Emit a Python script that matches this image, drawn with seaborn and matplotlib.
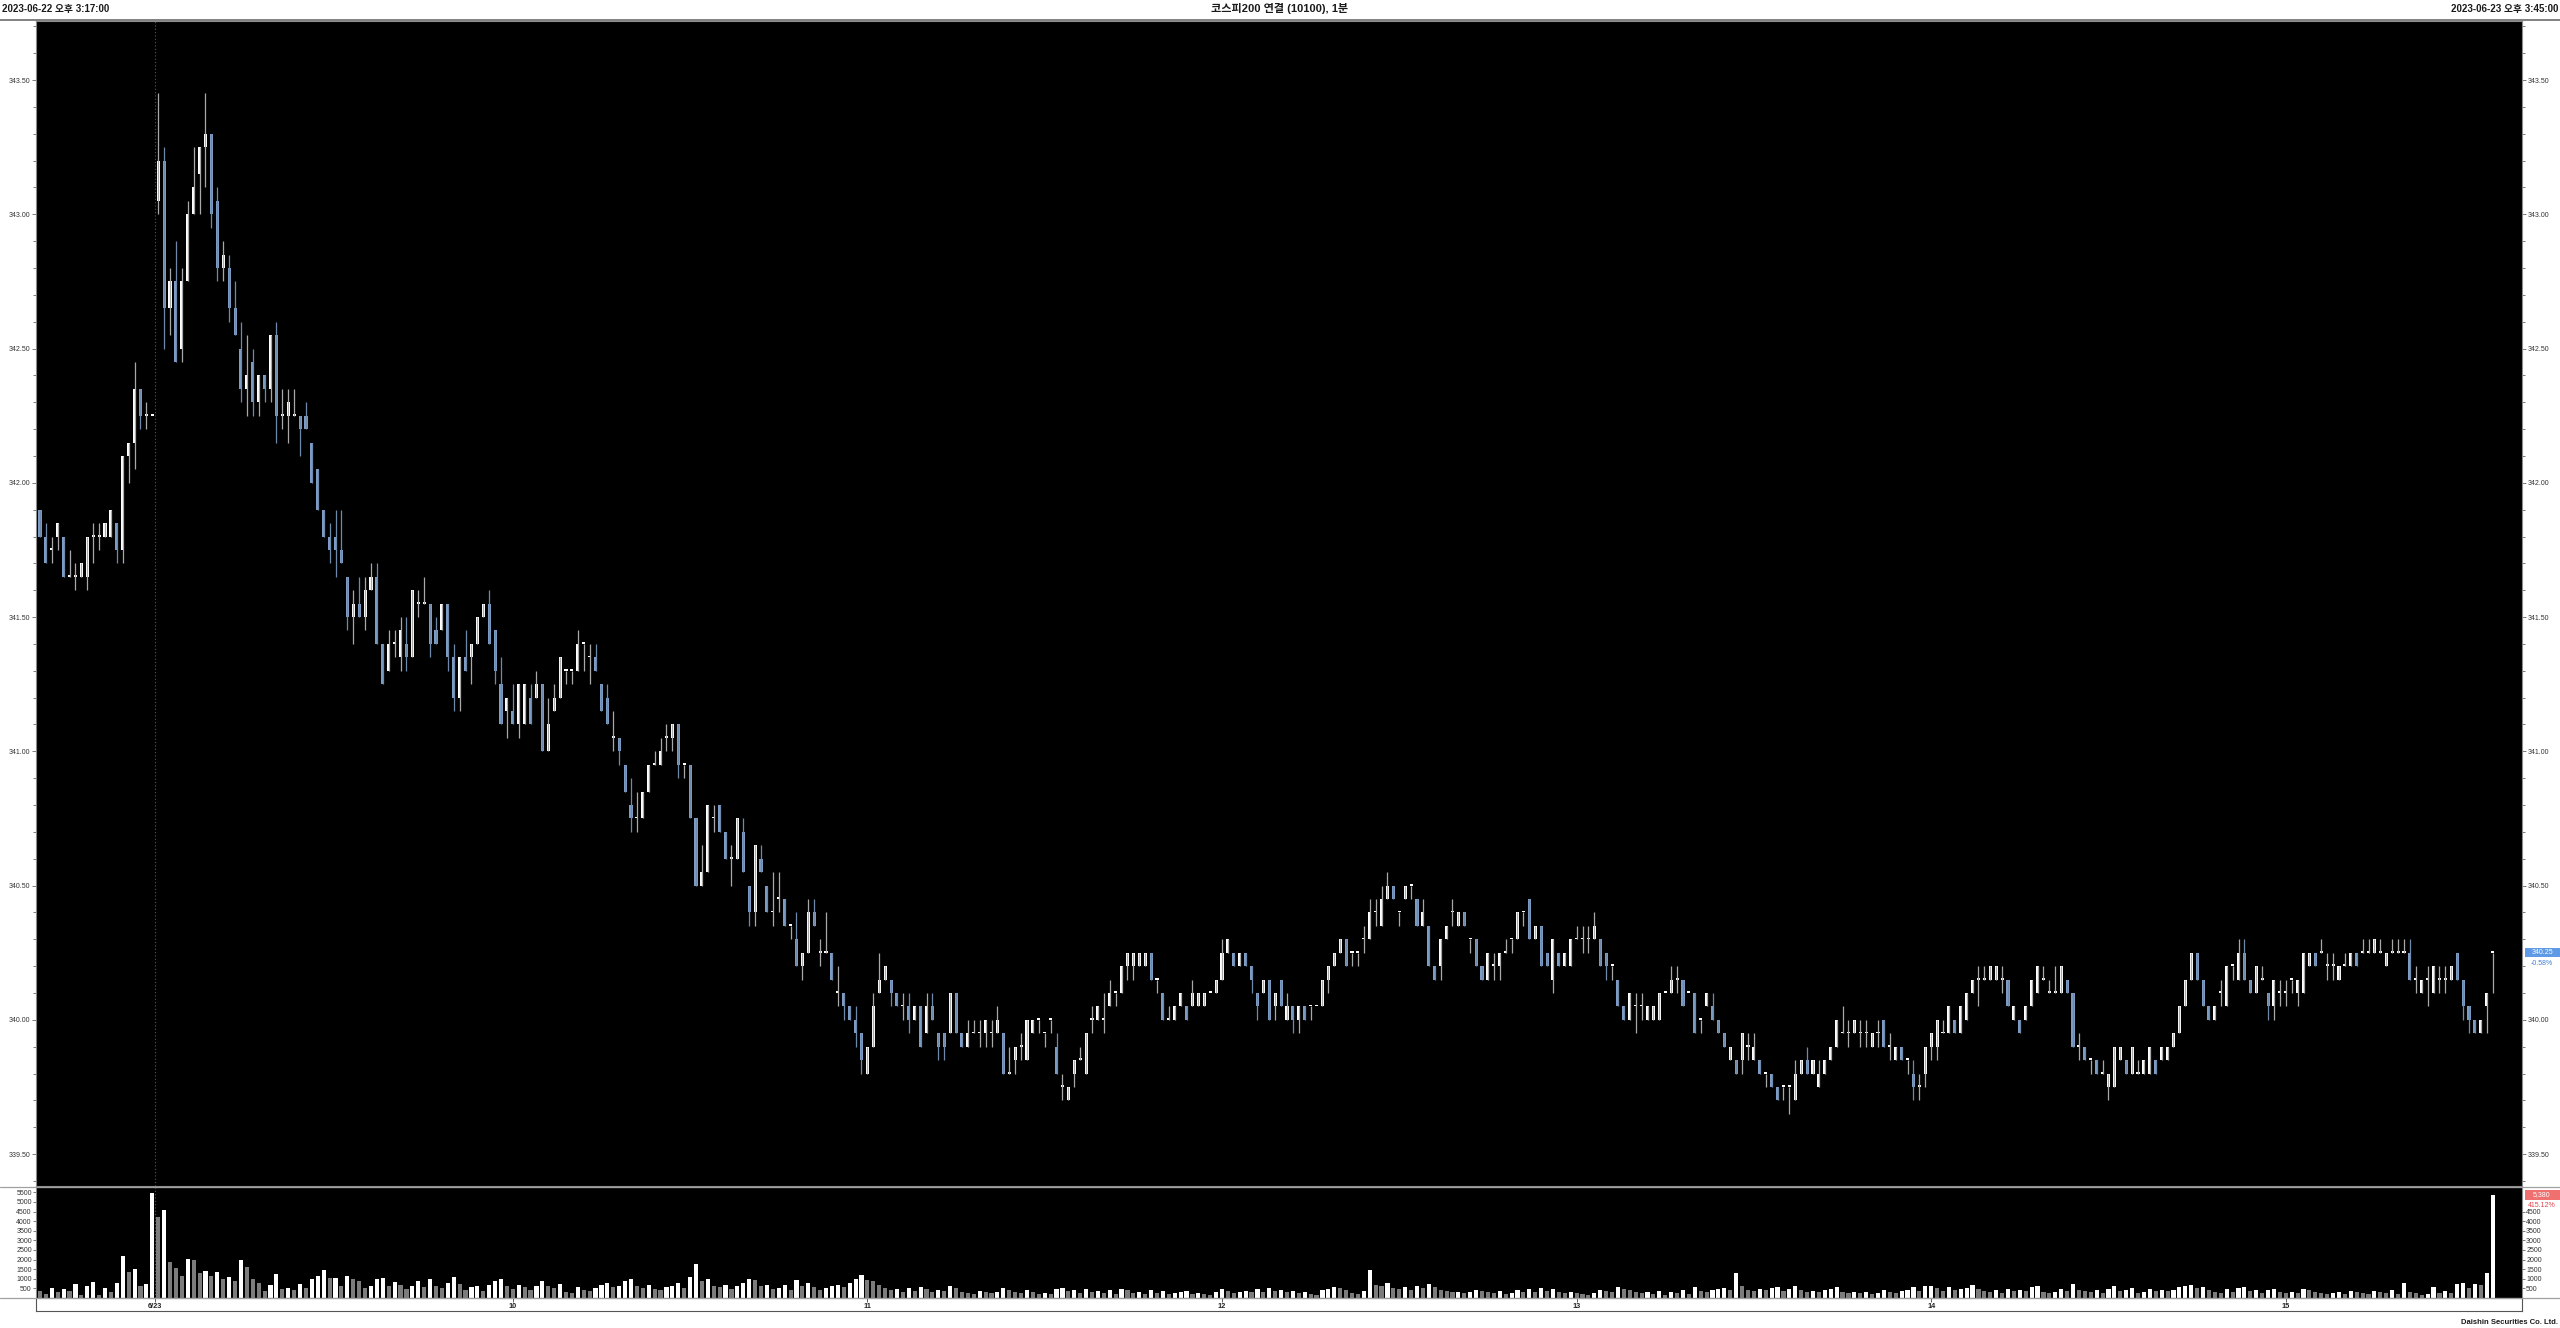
import numpy as np
import pandas as pd
import matplotlib
matplotlib.use("Agg")
import matplotlib.pyplot as plt
import matplotlib.transforms as mtransforms
from matplotlib.patches import Rectangle
from matplotlib.lines import Line2D
from matplotlib.ticker import FormatStrFormatter
import seaborn as sns

sns.set_style("white")
plt.rcParams["font.family"] = ["Liberation Sans", "Noto Sans CJK KR", "DejaVu Sans"]

# 1-minute bars, 6/22 15:17 -> 6/23 close
opens = [
    341.90, 341.80, 341.75, 341.80, 341.80, 341.65, 341.65, 341.65, 341.65, 341.80,
    341.80, 341.80, 341.80, 341.85, 341.75, 342.10, 342.15, 342.35, 342.25, 342.25,
    343.05, 343.20, 342.65, 342.75, 342.50, 342.75, 343.00, 343.15, 343.25, 343.30,
    343.05, 342.80, 342.80, 342.65, 342.50, 342.35, 342.45, 342.30, 342.40, 342.35,
    342.55, 342.25, 342.25, 342.25, 342.25, 342.25, 342.15, 342.05, 341.90, 341.80,
    341.80, 341.75, 341.65, 341.50, 341.55, 341.50, 341.60, 341.65, 341.40, 341.30,
    341.40, 341.35, 341.40, 341.35, 341.55, 341.55, 341.55, 341.45, 341.45, 341.55,
    341.35, 341.20, 341.35, 341.35, 341.40, 341.50, 341.55, 341.45, 341.25, 341.15,
    341.15, 341.10, 341.10, 341.20, 341.20, 341.25, 341.00, 341.15, 341.20, 341.30,
    341.30, 341.30, 341.40, 341.35, 341.35, 341.25, 341.20, 341.05, 341.05, 340.95,
    340.80, 340.75, 340.75, 340.85, 340.95, 340.95, 341.05, 341.05, 341.10, 340.95,
    340.95, 340.75, 340.50, 340.55, 340.75, 340.80, 340.70, 340.60, 340.60, 340.70,
    340.50, 340.40, 340.60, 340.50, 340.40, 340.45, 340.45, 340.35, 340.30, 340.20,
    340.25, 340.40, 340.25, 340.25, 340.25, 340.10, 340.10, 340.05, 340.00, 339.95,
    339.80, 339.90, 340.10, 340.15, 340.15, 340.10, 340.05, 340.05, 340.00, 340.05,
    339.95, 340.05, 339.95, 339.95, 339.95, 340.10, 339.95, 339.90, 339.95, 339.95,
    339.95, 339.95, 339.95, 339.95, 339.80, 339.85, 339.90, 339.85, 339.95, 340.00,
    339.95, 340.00, 339.90, 339.75, 339.70, 339.80, 339.85, 339.80, 340.00, 340.00,
    340.00, 340.05, 340.10, 340.10, 340.20, 340.20, 340.20, 340.20, 340.25, 340.15,
    340.10, 340.00, 340.00, 340.05, 340.05, 340.05, 340.05, 340.05, 340.10, 340.10,
    340.15, 340.25, 340.25, 340.20, 340.25, 340.20, 340.10, 340.10, 340.15, 340.05,
    340.15, 340.00, 340.05, 340.00, 340.05, 340.05, 340.05, 340.05, 340.15, 340.20,
    340.25, 340.30, 340.25, 340.25, 340.30, 340.30, 340.40, 340.35, 340.45, 340.50,
    340.40, 340.45, 340.50, 340.45, 340.35, 340.35, 340.20, 340.20, 340.30, 340.40,
    340.35, 340.40, 340.30, 340.30, 340.20, 340.15, 340.20, 340.20, 340.25, 340.30,
    340.30, 340.40, 340.45, 340.30, 340.35, 340.25, 340.15, 340.25, 340.20, 340.20,
    340.30, 340.30, 340.30, 340.30, 340.30, 340.25, 340.20, 340.15, 340.05, 340.00,
    340.05, 340.05, 340.00, 340.00, 340.00, 340.10, 340.10, 340.15, 340.15, 340.10,
    340.10, 340.00, 340.05, 340.05, 340.00, 339.95, 339.85, 339.85, 339.85, 339.90,
    339.85, 339.85, 339.80, 339.80, 339.75, 339.75, 339.75, 339.70, 339.80, 339.85,
    339.80, 339.75, 339.80, 339.85, 339.90, 339.95, 339.95, 339.95, 339.95, 339.95,
    339.90, 339.95, 340.00, 339.90, 339.85, 339.90, 339.85, 339.80, 339.75, 339.80,
    339.90, 339.90, 339.95, 339.95, 340.00, 339.95, 340.00, 340.10, 340.15, 340.15,
    340.15, 340.15, 340.15, 340.15, 340.00, 340.00, 340.00, 340.05, 340.10, 340.15,
    340.10, 340.10, 340.10, 340.15, 340.10, 339.90, 339.90, 339.85, 339.85, 339.80,
    339.75, 339.75, 339.85, 339.85, 339.80, 339.80, 339.80, 339.80, 339.85, 339.85,
    339.85, 339.90, 339.95, 340.05, 340.15, 340.25, 340.15, 340.05, 340.00, 340.10,
    340.05, 340.20, 340.15, 340.25, 340.15, 340.10, 340.15, 340.10, 340.05, 340.10,
    340.10, 340.15, 340.10, 340.10, 340.20, 340.25, 340.25, 340.20, 340.20, 340.15,
    340.20, 340.20, 340.25, 340.25, 340.25, 340.25, 340.25, 340.20, 340.25, 340.25,
    340.25, 340.25, 340.15, 340.10, 340.15, 340.10, 340.15, 340.15, 340.15, 340.25,
    340.15, 340.05, 340.00, 339.95, 340.05, 340.25,
]
highs = [
    341.90, 341.85, 341.80, 341.85, 341.80, 341.75, 341.70, 341.70, 341.80, 341.85,
    341.85, 341.85, 341.90, 341.85, 342.10, 342.15, 342.45, 342.35, 342.30, 342.25,
    343.45, 343.25, 342.80, 342.90, 342.80, 343.05, 343.25, 343.25, 343.45, 343.30,
    343.10, 342.90, 342.85, 342.75, 342.60, 342.55, 342.50, 342.40, 342.40, 342.55,
    342.60, 342.35, 342.35, 342.35, 342.25, 342.30, 342.15, 342.05, 341.90, 341.85,
    341.90, 341.90, 341.65, 341.60, 341.65, 341.65, 341.70, 341.70, 341.40, 341.45,
    341.45, 341.50, 341.50, 341.60, 341.60, 341.65, 341.55, 341.50, 341.55, 341.55,
    341.40, 341.35, 341.45, 341.40, 341.50, 341.55, 341.60, 341.45, 341.35, 341.20,
    341.25, 341.25, 341.25, 341.25, 341.30, 341.25, 341.20, 341.25, 341.35, 341.30,
    341.30, 341.45, 341.40, 341.40, 341.40, 341.25, 341.25, 341.15, 341.05, 340.95,
    340.90, 340.85, 340.85, 340.95, 341.00, 341.05, 341.10, 341.10, 341.10, 340.95,
    340.95, 340.75, 340.65, 340.80, 340.80, 340.80, 340.70, 340.65, 340.75, 340.75,
    340.50, 340.65, 340.65, 340.50, 340.55, 340.55, 340.45, 340.35, 340.40, 340.25,
    340.45, 340.45, 340.30, 340.40, 340.25, 340.20, 340.10, 340.05, 340.05, 339.95,
    339.90, 340.10, 340.25, 340.20, 340.15, 340.10, 340.10, 340.10, 340.05, 340.05,
    340.10, 340.10, 339.95, 339.95, 340.10, 340.10, 339.95, 340.00, 340.00, 340.00,
    340.00, 340.00, 340.05, 339.95, 339.90, 339.90, 339.95, 340.00, 340.00, 340.00,
    339.95, 340.00, 339.95, 339.80, 339.75, 339.85, 339.90, 339.95, 340.05, 340.05,
    340.10, 340.15, 340.10, 340.20, 340.25, 340.25, 340.25, 340.25, 340.25, 340.15,
    340.10, 340.05, 340.05, 340.10, 340.05, 340.15, 340.10, 340.10, 340.10, 340.15,
    340.30, 340.30, 340.25, 340.25, 340.25, 340.20, 340.10, 340.15, 340.15, 340.10,
    340.15, 340.10, 340.05, 340.05, 340.05, 340.05, 340.05, 340.15, 340.20, 340.25,
    340.30, 340.30, 340.25, 340.25, 340.35, 340.45, 340.45, 340.50, 340.55, 340.50,
    340.40, 340.50, 340.50, 340.45, 340.45, 340.35, 340.20, 340.30, 340.35, 340.45,
    340.40, 340.40, 340.30, 340.30, 340.20, 340.25, 340.25, 340.25, 340.30, 340.30,
    340.40, 340.40, 340.45, 340.35, 340.35, 340.25, 340.30, 340.25, 340.25, 340.30,
    340.35, 340.35, 340.35, 340.40, 340.30, 340.25, 340.20, 340.15, 340.05, 340.10,
    340.10, 340.10, 340.05, 340.05, 340.10, 340.10, 340.20, 340.20, 340.15, 340.10,
    340.10, 340.00, 340.10, 340.10, 340.00, 339.95, 339.90, 339.85, 339.95, 339.95,
    339.95, 339.85, 339.80, 339.80, 339.75, 339.75, 339.75, 339.85, 339.85, 339.90,
    339.85, 339.85, 339.85, 339.90, 340.00, 340.05, 340.00, 340.00, 340.00, 340.00,
    339.95, 340.00, 340.00, 339.95, 339.90, 339.90, 339.85, 339.85, 339.80, 339.90,
    339.95, 340.00, 340.00, 340.05, 340.00, 340.05, 340.10, 340.15, 340.20, 340.20,
    340.20, 340.20, 340.20, 340.15, 340.05, 340.00, 340.05, 340.15, 340.20, 340.20,
    340.15, 340.20, 340.20, 340.15, 340.10, 339.95, 339.90, 339.85, 339.85, 339.85,
    339.80, 339.90, 339.90, 339.85, 339.90, 339.85, 339.85, 339.90, 339.85, 339.90,
    339.90, 339.95, 340.05, 340.15, 340.25, 340.25, 340.15, 340.05, 340.05, 340.15,
    340.20, 340.20, 340.30, 340.30, 340.15, 340.20, 340.20, 340.10, 340.15, 340.15,
    340.15, 340.15, 340.15, 340.25, 340.25, 340.25, 340.30, 340.25, 340.25, 340.20,
    340.25, 340.25, 340.25, 340.30, 340.30, 340.30, 340.30, 340.25, 340.30, 340.30,
    340.30, 340.30, 340.20, 340.15, 340.20, 340.20, 340.20, 340.20, 340.20, 340.25,
    340.15, 340.05, 340.00, 340.00, 340.10, 340.25,
]
lows = [
    341.80, 341.70, 341.70, 341.75, 341.65, 341.65, 341.60, 341.65, 341.60, 341.70,
    341.75, 341.80, 341.80, 341.70, 341.70, 342.00, 342.05, 342.20, 342.20, 342.25,
    343.00, 342.50, 342.55, 342.45, 342.45, 342.75, 343.00, 343.00, 343.10, 342.95,
    342.75, 342.75, 342.60, 342.55, 342.30, 342.25, 342.25, 342.25, 342.30, 342.30,
    342.15, 342.20, 342.15, 342.25, 342.10, 342.20, 342.00, 341.90, 341.80, 341.70,
    341.65, 341.70, 341.45, 341.40, 341.50, 341.45, 341.60, 341.40, 341.25, 341.30,
    341.35, 341.30, 341.30, 341.35, 341.50, 341.55, 341.35, 341.40, 341.45, 341.30,
    341.15, 341.15, 341.30, 341.25, 341.40, 341.50, 341.40, 341.25, 341.10, 341.05,
    341.10, 341.05, 341.10, 341.10, 341.20, 341.00, 341.00, 341.15, 341.20, 341.25,
    341.25, 341.30, 341.30, 341.25, 341.30, 341.15, 341.10, 341.00, 340.95, 340.85,
    340.70, 340.70, 340.75, 340.85, 340.95, 340.95, 341.00, 341.00, 340.90, 340.90,
    340.75, 340.50, 340.50, 340.55, 340.70, 340.70, 340.60, 340.50, 340.60, 340.55,
    340.35, 340.35, 340.55, 340.40, 340.35, 340.40, 340.35, 340.30, 340.20, 340.15,
    340.25, 340.35, 340.20, 340.25, 340.15, 340.05, 340.00, 340.00, 339.90, 339.80,
    339.80, 339.90, 340.10, 340.15, 340.05, 340.05, 340.00, 339.95, 340.00, 339.90,
    339.95, 340.00, 339.85, 339.85, 339.95, 339.95, 339.90, 339.90, 339.95, 339.90,
    339.90, 339.90, 339.95, 339.80, 339.80, 339.80, 339.85, 339.85, 339.95, 339.95,
    339.90, 339.95, 339.80, 339.70, 339.70, 339.75, 339.85, 339.80, 339.95, 340.00,
    339.95, 340.05, 340.05, 340.10, 340.15, 340.15, 340.20, 340.20, 340.15, 340.10,
    340.00, 340.00, 340.00, 340.05, 340.00, 340.05, 340.05, 340.05, 340.10, 340.10,
    340.15, 340.25, 340.20, 340.20, 340.20, 340.10, 340.00, 340.10, 340.00, 340.00,
    340.05, 340.00, 339.95, 339.95, 340.00, 340.00, 340.05, 340.05, 340.10, 340.20,
    340.25, 340.20, 340.20, 340.20, 340.25, 340.30, 340.35, 340.35, 340.45, 340.45,
    340.35, 340.45, 340.45, 340.35, 340.35, 340.20, 340.15, 340.15, 340.30, 340.35,
    340.35, 340.35, 340.25, 340.20, 340.15, 340.15, 340.15, 340.15, 340.25, 340.25,
    340.30, 340.35, 340.30, 340.30, 340.20, 340.20, 340.10, 340.20, 340.20, 340.20,
    340.30, 340.25, 340.25, 340.30, 340.20, 340.15, 340.15, 340.05, 340.00, 340.00,
    339.95, 340.00, 340.00, 340.00, 340.00, 340.10, 340.10, 340.10, 340.05, 340.10,
    339.95, 339.95, 340.05, 340.00, 339.95, 339.90, 339.85, 339.80, 339.80, 339.85,
    339.85, 339.80, 339.75, 339.75, 339.70, 339.70, 339.65, 339.70, 339.80, 339.80,
    339.80, 339.75, 339.80, 339.85, 339.90, 339.95, 339.90, 339.95, 339.90, 339.90,
    339.90, 339.90, 339.90, 339.85, 339.85, 339.85, 339.80, 339.70, 339.70, 339.75,
    339.85, 339.85, 339.95, 339.95, 339.95, 339.95, 340.00, 340.10, 340.05, 340.15,
    340.15, 340.15, 340.10, 340.05, 340.00, 339.95, 340.00, 340.05, 340.10, 340.15,
    340.10, 340.10, 340.10, 340.10, 339.90, 339.85, 339.85, 339.80, 339.80, 339.80,
    339.70, 339.75, 339.85, 339.80, 339.80, 339.80, 339.80, 339.80, 339.80, 339.85,
    339.85, 339.90, 339.95, 340.05, 340.15, 340.15, 340.05, 340.00, 340.00, 340.05,
    340.05, 340.15, 340.15, 340.15, 340.10, 340.10, 340.15, 340.00, 340.00, 340.05,
    340.05, 340.10, 340.05, 340.10, 340.20, 340.20, 340.25, 340.15, 340.15, 340.15,
    340.20, 340.20, 340.20, 340.25, 340.25, 340.25, 340.25, 340.20, 340.25, 340.25,
    340.25, 340.15, 340.10, 340.10, 340.05, 340.10, 340.10, 340.10, 340.15, 340.15,
    340.00, 339.95, 339.95, 339.95, 339.95, 340.10,
]
closes = [
    341.80, 341.70, 341.75, 341.85, 341.65, 341.65, 341.65, 341.70, 341.80, 341.80,
    341.80, 341.85, 341.90, 341.75, 342.10, 342.15, 342.35, 342.25, 342.25, 342.25,
    343.20, 342.65, 342.75, 342.45, 342.75, 343.00, 343.10, 343.25, 343.30, 343.00,
    342.80, 342.85, 342.65, 342.55, 342.35, 342.40, 342.30, 342.40, 342.35, 342.55,
    342.25, 342.25, 342.30, 342.25, 342.20, 342.20, 342.00, 341.90, 341.80, 341.75,
    341.75, 341.70, 341.50, 341.55, 341.50, 341.60, 341.65, 341.40, 341.25, 341.40,
    341.40, 341.45, 341.35, 341.60, 341.55, 341.55, 341.40, 341.40, 341.55, 341.35,
    341.20, 341.35, 341.30, 341.40, 341.50, 341.55, 341.40, 341.30, 341.10, 341.20,
    341.10, 341.25, 341.25, 341.10, 341.25, 341.00, 341.10, 341.20, 341.35, 341.30,
    341.30, 341.40, 341.40, 341.35, 341.30, 341.15, 341.10, 341.05, 341.00, 340.85,
    340.75, 340.75, 340.85, 340.95, 340.95, 341.00, 341.05, 341.10, 340.95, 340.95,
    340.75, 340.50, 340.55, 340.80, 340.75, 340.70, 340.60, 340.60, 340.75, 340.55,
    340.40, 340.65, 340.55, 340.40, 340.40, 340.45, 340.35, 340.35, 340.20, 340.25,
    340.40, 340.35, 340.25, 340.25, 340.15, 340.10, 340.05, 340.00, 339.95, 339.85,
    339.90, 340.05, 340.15, 340.20, 340.10, 340.05, 340.05, 340.00, 340.05, 339.90,
    340.05, 340.00, 339.90, 339.90, 340.10, 339.95, 339.90, 339.95, 339.95, 339.95,
    340.00, 339.95, 340.00, 339.80, 339.80, 339.90, 339.90, 340.00, 340.00, 340.00,
    339.95, 340.00, 339.80, 339.75, 339.75, 339.85, 339.85, 339.95, 340.00, 340.05,
    340.00, 340.10, 340.10, 340.20, 340.25, 340.25, 340.25, 340.25, 340.15, 340.15,
    340.00, 340.00, 340.05, 340.10, 340.00, 340.10, 340.10, 340.10, 340.10, 340.15,
    340.25, 340.30, 340.20, 340.25, 340.20, 340.15, 340.05, 340.15, 340.00, 340.10,
    340.05, 340.05, 340.00, 340.05, 340.00, 340.05, 340.05, 340.15, 340.20, 340.25,
    340.30, 340.20, 340.25, 340.25, 340.30, 340.40, 340.40, 340.45, 340.50, 340.45,
    340.40, 340.50, 340.50, 340.35, 340.40, 340.20, 340.15, 340.30, 340.35, 340.40,
    340.40, 340.35, 340.30, 340.20, 340.15, 340.25, 340.20, 340.25, 340.25, 340.30,
    340.40, 340.40, 340.30, 340.35, 340.20, 340.20, 340.30, 340.20, 340.25, 340.30,
    340.30, 340.30, 340.30, 340.35, 340.20, 340.20, 340.20, 340.05, 340.00, 340.10,
    340.05, 340.05, 340.05, 340.05, 340.10, 340.10, 340.15, 340.15, 340.05, 340.10,
    339.95, 340.00, 340.10, 340.00, 339.95, 339.90, 339.90, 339.80, 339.95, 339.90,
    339.90, 339.80, 339.80, 339.75, 339.70, 339.75, 339.75, 339.80, 339.85, 339.80,
    339.85, 339.80, 339.85, 339.90, 340.00, 339.95, 339.95, 340.00, 339.95, 339.95,
    339.95, 339.95, 339.90, 339.90, 339.90, 339.85, 339.85, 339.75, 339.75, 339.90,
    339.95, 340.00, 339.95, 340.05, 339.95, 340.05, 340.10, 340.15, 340.15, 340.15,
    340.20, 340.20, 340.15, 340.05, 340.05, 339.95, 340.05, 340.15, 340.20, 340.15,
    340.10, 340.10, 340.20, 340.10, 339.90, 339.90, 339.85, 339.85, 339.80, 339.80,
    339.80, 339.90, 339.90, 339.80, 339.90, 339.80, 339.85, 339.90, 339.80, 339.90,
    339.90, 339.95, 340.05, 340.15, 340.25, 340.15, 340.05, 340.00, 340.05, 340.10,
    340.20, 340.20, 340.25, 340.15, 340.10, 340.20, 340.15, 340.05, 340.15, 340.10,
    340.10, 340.15, 340.15, 340.25, 340.25, 340.20, 340.25, 340.20, 340.20, 340.20,
    340.20, 340.25, 340.20, 340.25, 340.25, 340.30, 340.25, 340.25, 340.25, 340.25,
    340.25, 340.15, 340.15, 340.15, 340.15, 340.20, 340.15, 340.15, 340.20, 340.15,
    340.05, 340.00, 339.95, 340.00, 340.10, 340.25,
]
volumes = [
    350, 200, 500, 300, 450, 380, 750, 150, 600, 850, 180, 500, 300, 800, 2200, 1350, 1500, 600, 750, 5450,
    4200, 4600, 1850, 1550, 1150, 2050, 2000, 1300, 1400, 1150, 1350, 1000, 1100, 900, 2000, 1600, 1000, 800, 350, 700,
    1250, 450, 500, 400, 750, 500, 1000, 1150, 1450, 1050, 1050, 600, 1150, 1000, 900, 500, 650, 1000, 1050, 650,
    850, 700, 450, 600, 900, 550, 1000, 650, 500, 800, 1100, 750, 400, 550, 600, 350, 700, 900, 1000, 600,
    450, 700, 550, 400, 650, 900, 600, 500, 750, 300, 250, 550, 400, 350, 500, 700, 800, 550, 600, 900,
    1000, 650, 500, 700, 450, 400, 550, 600, 800, 500, 1100, 1750, 900, 1000, 600, 550, 700, 450, 650, 800,
    1000, 950, 600, 700, 450, 500, 700, 400, 950, 600, 800, 550, 400, 500, 650, 700, 550, 800, 1000, 1200,
    950, 900, 700, 500, 400, 450, 300, 500, 350, 550, 450, 300, 400, 350, 600, 500, 300, 250, 200, 350,
    300, 250, 300, 500, 400, 300, 250, 400, 300, 200, 250, 200, 450, 500, 350, 400, 250, 450, 300, 350,
    250, 400, 200, 450, 400, 250, 300, 200, 400, 250, 350, 200, 250, 300, 350, 200, 250, 200, 150, 300,
    450, 350, 250, 300, 350, 300, 450, 300, 500, 350, 400, 300, 350, 250, 300, 200, 150, 400, 450, 550,
    500, 400, 250, 200, 350, 1450, 700, 600, 800, 500, 450, 550, 400, 600, 500, 750, 550, 400, 350, 300,
    300, 250, 300, 400, 350, 300, 250, 350, 200, 250, 400, 300, 450, 300, 500, 350, 450, 300, 250, 300,
    250, 200, 150, 250, 400, 350, 300, 550, 450, 400, 300, 250, 300, 200, 350, 150, 300, 250, 400, 200,
    550, 350, 300, 400, 450, 500, 400, 1300, 650, 400, 350, 450, 400, 500, 550, 350, 450, 600, 400, 300,
    350, 300, 400, 450, 550, 300, 250, 300, 250, 300, 200, 250, 400, 300, 250, 350, 400, 550, 350, 600,
    650, 500, 350, 550, 400, 450, 500, 700, 450, 350, 300, 400, 250, 450, 350, 400, 350, 550, 600, 300,
    250, 300, 450, 350, 750, 400, 350, 300, 400, 250, 450, 600, 350, 400, 500, 250, 300, 450, 350, 400,
    350, 400, 550, 650, 700, 500, 550, 400, 300, 250, 450, 300, 500, 550, 350, 400, 250, 400, 450, 300,
    250, 300, 250, 450, 400, 300, 250, 200, 250, 300, 200, 350, 300, 250, 200, 350, 300, 250, 400, 200,
    800, 300, 250, 150, 200, 550, 250, 380, 250, 750, 780, 500, 750, 700, 1296, 5380,
]

prev_close = 342.25  # 6/22 close
xtick_pos = [20.5, 81, 141, 201, 261, 321, 381]
xtick_labels = ["6/23", "10", "11", "12", "13", "14", "15"]

n = len(closes)
assert len(opens) == n and len(highs) == n and len(lows) == n and len(volumes) == n, \
    (len(opens), len(highs), len(lows), len(closes), len(volumes))

df = pd.DataFrame({"n": np.arange(1, n + 1), "open": opens, "high": highs,
                   "low": lows, "close": closes, "volume": volumes})
df["high"] = df[["open", "high", "close"]].max(axis=1)
df["low"] = df[["open", "low", "close"]].min(axis=1)
df["up"] = df["close"] >= df["open"]
prev_vol = df["volume"].shift(1).fillna(np.inf)
df["vdir"] = np.where(df["volume"] >= prev_vol, "up", "down")

W, H = 2560, 1328
fig = plt.figure(figsize=(W / 100, H / 100), dpi=100)
fig.patch.set_facecolor("white")


def box(x0, y0, x1, y1):
    return fig.add_axes([x0 / W, 1 - y1 / H, (x1 - x0) / W, (y1 - y0) / H])


ax = box(36, 21, 2522, 1186)
axv = box(36, 1187, 2522, 1298)
axx = box(36, 1298, 2522, 1311)
XLIM = (0.32, 420.97)

UP, DOWN = "#ffffff", "#7d9dc6"
for a in (ax, axv):
    a.set_facecolor("black")
    for s in a.spines.values():
        s.set_color("#8c8c8c")
        s.set_linewidth(0.8)

# candles
ax.vlines(df["n"], df["low"], df["high"],
          colors=np.where(df["up"], "#a8a8a8", "#7088aa"), lw=0.9)
body = (df["close"] - df["open"]).abs().clip(lower=0.006)
ax.bar(df["n"], body, bottom=df[["open", "close"]].min(axis=1), width=0.52,
       color=np.where(df["up"], UP, DOWN), linewidth=0)
ax.axvline(xtick_pos[0], color="#5a5a5a", ls=(0, (1, 2)), lw=0.8)

ax.set_xlim(*XLIM)
ax.set_ylim(339.381, 343.72)
ax.set_yticks(np.arange(339.5, 343.51, 0.5))
ax.set_yticks(np.arange(339.4, 343.71, 0.1), minor=True)
ax.yaxis.set_major_formatter(FormatStrFormatter("%.2f"))
ax.tick_params(axis="y", which="both", left=True, right=True, labelleft=True,
               labelright=True, direction="out", color="#666", labelcolor="#333",
               labelsize=5, pad=1, width=0.6)
ax.tick_params(axis="y", which="major", length=3)
ax.tick_params(axis="y", which="minor", length=2)
ax.tick_params(axis="x", bottom=False, labelbottom=False)

# volume
sns.barplot(data=df, x="n", y="volume", hue="vdir",
            palette={"up": "#ffffff", "down": "#7c7c7c"}, native_scale=True,
            width=0.7, dodge=False, saturation=1, legend=False, errorbar=None,
            linewidth=0, ax=axv)
axv.axvline(xtick_pos[0], color="#5a5a5a", ls=(0, (1, 2)), lw=0.8)
axv.set_xlim(*XLIM)
axv.set_ylim(0, 5781)
axv.set_xlabel("")
axv.set_ylabel("")
axv.set_yticks(np.arange(500, 5501, 500))
axv.tick_params(axis="y", left=True, labelleft=True, direction="out", length=2,
                color="#666", labelcolor="#333", labelsize=5, pad=1, width=0.6)
axv.tick_params(axis="x", bottom=False, labelbottom=False)
axv2 = axv.twinx()
axv2.set_ylim(0, 5781)
axv2.set_yticks(np.arange(500, 4501, 500))
axv2.tick_params(axis="y", right=True, labelright=True, direction="out", length=2,
                 color="#666", labelcolor="#333", labelsize=5, pad=1, width=0.6)
for s in axv2.spines.values():
    s.set_visible(False)

# time axis strip
axx.set_xlim(*XLIM)
axx.set_ylim(0, 1)
axx.set_yticks([])
axx.set_xticks(xtick_pos)
axx.tick_params(axis="x", top=True, bottom=False, labelbottom=False, direction="in",
                length=3, width=0.6, color="#444")
for pos, lab in zip(xtick_pos, xtick_labels):
    axx.text(pos, 0.38, lab, ha="center", va="center", fontsize=5.3,
             fontweight="bold", color="#222")
for s in axx.spines.values():
    s.set_color("#555")
    s.set_linewidth(0.8)

# frame lines
for yy, col, lw in [(20, "#777777", 1.3), (1186.5, "#a0a0a0", 0.9), (1298, "#a0a0a0", 0.9)]:
    fig.add_artist(Line2D([0, 1], [1 - yy / H] * 2, color=col, lw=lw,
                          transform=fig.transFigure))

# header / footer
hdr = dict(fontweight="bold", color="#1a1a1a", va="center")
fig.text(2 / W, 1 - 9 / H, "2023-06-22 오후 3:17:00", ha="left", fontsize=7, **hdr)
fig.text(0.5, 1 - 9 / H, "코스피200 연결 (10100), 1분", ha="center", fontsize=8, **hdr)
fig.text(2558 / W, 1 - 9 / H, "2023-06-23 오후 3:45:00", ha="right", fontsize=7, **hdr)
fig.text(2558 / W, 1 - 1322 / H, "Daishin Securities Co. Ltd.", ha="right",
         va="center", fontsize=5.5, fontweight="bold", color="#1a1a1a")

# last price / volume markers on the right
last = df["close"].iloc[-1]
tp = mtransforms.blended_transform_factory(fig.transFigure, ax.transData)
ax.add_artist(Rectangle((2525 / W, last - 0.0165), 35 / W, 0.033, transform=tp,
                        facecolor="#5f9ae6", edgecolor="none", clip_on=False))
fig.text(2542 / W, 0, f"{last:.2f}", transform=tp, ha="center", va="center",
         fontsize=5, color="white").set_y(last)
chg = (last / prev_close - 1) * 100
fig.text(2542 / W, 0, f"{chg:.2f}%", transform=tp, ha="center", va="center",
         fontsize=5, color="#3f7fd6").set_y(last - 0.04)

lastv = df["volume"].iloc[-1]
ratio = lastv / df["volume"].iloc[-2] * 100
tv = mtransforms.blended_transform_factory(fig.transFigure, axv.transData)
axv.add_artist(Rectangle((2525 / W, lastv - 260), 35 / W, 520, transform=tv,
                         facecolor="#f07070", edgecolor="none", clip_on=False))
fig.text(2542 / W, 0, f"{lastv:,}", transform=tv, ha="center", va="center",
         fontsize=5, color="white").set_y(lastv)
fig.text(2542 / W, 0, f"{ratio:.2f}%", transform=tv, ha="center", va="center",
         fontsize=5, color="#e0454c").set_y(lastv - 540)

fig.savefig("out.png", dpi=100, facecolor="white")
